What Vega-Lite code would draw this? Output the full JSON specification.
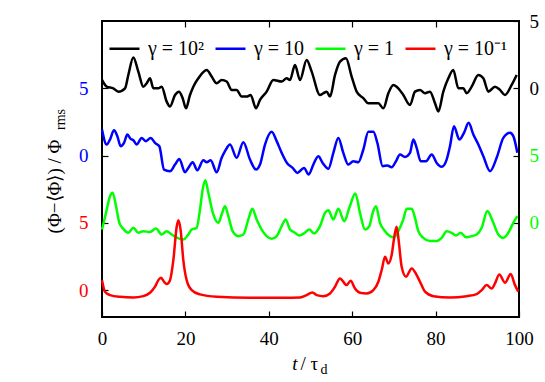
{
  "$schema": "https://vega.github.io/schema/vega-lite/v6.json",
  "width": 417,
  "height": 296,
  "autosize": {"type": "none"},
  "padding": {"left": 102, "top": 21, "right": 26, "bottom": 65},
  "background": "white",
  "config": {
    "view": {"stroke": "black", "strokeWidth": 2},
    "font": "Liberation Serif",
    "axis": {
      "grid": false, "domain": false,
      "labelFont": "Liberation Serif", "labelFontSize": 19, "labelColor": "black",
      "titleFont": "Liberation Serif", "titleFontSize": 19, "titleFontWeight": "normal", "titleColor": "black",
      "tickColor": "black", "tickSize": -6, "tickWidth": 1.2
    },
    "line": {"strokeWidth": 2.5, "interpolate": "monotone", "strokeJoin": "round"}
  },
  "data": {"values": [
    {"series":"γ = 10²","t":0,"y":15.62},{"series":"γ = 10²","t":1.12,"y":15.12},{"series":"γ = 10²","t":2.72,"y":15.0},{"series":"γ = 10²","t":3.92,"y":14.75},{"series":"γ = 10²","t":5.52,"y":15.0},{"series":"γ = 10²","t":6.31,"y":15.99},{"series":"γ = 10²","t":7.51,"y":17.29},{"series":"γ = 10²","t":8.71,"y":16.24},{"series":"γ = 10²","t":9.91,"y":15.12},{"series":"γ = 10²","t":10.71,"y":15.37},{"series":"γ = 10²","t":11.51,"y":15.74},{"series":"γ = 10²","t":12.31,"y":15.0},{"series":"γ = 10²","t":13.51,"y":15.0},{"series":"γ = 10²","t":14.31,"y":15.12},{"series":"γ = 10²","t":15.51,"y":14.01},{"series":"γ = 10²","t":16.31,"y":13.64},{"series":"γ = 10²","t":17.51,"y":14.5},{"series":"γ = 10²","t":18.47,"y":14.75},{"series":"γ = 10²","t":19.34,"y":14.26},{"series":"γ = 10²","t":20.14,"y":13.51},{"series":"γ = 10²","t":21.1,"y":14.5},{"series":"γ = 10²","t":21.9,"y":15.12},{"series":"γ = 10²","t":23.1,"y":15.74},{"series":"γ = 10²","t":25.1,"y":16.36},{"series":"γ = 10²","t":26.3,"y":15.87},{"series":"γ = 10²","t":27.5,"y":15.37},{"series":"γ = 10²","t":28.7,"y":15.62},{"series":"γ = 10²","t":29.9,"y":15.5},{"series":"γ = 10²","t":31.1,"y":14.88},{"series":"γ = 10²","t":32.29,"y":14.88},{"series":"γ = 10²","t":33.49,"y":14.38},{"series":"γ = 10²","t":34.69,"y":14.38},{"series":"γ = 10²","t":35.65,"y":14.5},{"series":"γ = 10²","t":36.93,"y":13.51},{"series":"γ = 10²","t":37.89,"y":14.13},{"series":"γ = 10²","t":39.49,"y":14.75},{"series":"γ = 10²","t":41.09,"y":15.62},{"series":"γ = 10²","t":43.09,"y":15.5},{"series":"γ = 10²","t":44.28,"y":15.74},{"series":"γ = 10²","t":45.08,"y":15.62},{"series":"γ = 10²","t":46.28,"y":16.73},{"series":"γ = 10²","t":47.48,"y":15.62},{"series":"γ = 10²","t":49.08,"y":17.11},{"series":"γ = 10²","t":50.28,"y":16.24},{"series":"γ = 10²","t":52.28,"y":14.5},{"series":"γ = 10²","t":53.08,"y":14.63},{"series":"γ = 10²","t":53.88,"y":14.75},{"series":"γ = 10²","t":54.68,"y":14.38},{"series":"γ = 10²","t":55.88,"y":15.99},{"series":"γ = 10²","t":57.07,"y":16.98},{"series":"γ = 10²","t":58.51,"y":17.23},{"series":"γ = 10²","t":59.87,"y":15.87},{"series":"γ = 10²","t":61.07,"y":14.75},{"series":"γ = 10²","t":62.67,"y":14.26},{"series":"γ = 10²","t":63.87,"y":13.88},{"series":"γ = 10²","t":65.07,"y":13.88},{"series":"γ = 10²","t":66.27,"y":13.88},{"series":"γ = 10²","t":67.47,"y":13.51},{"series":"γ = 10²","t":68.67,"y":14.63},{"series":"γ = 10²","t":69.86,"y":15.25},{"series":"γ = 10²","t":71.06,"y":15.0},{"series":"γ = 10²","t":72.26,"y":14.5},{"series":"γ = 10²","t":73.86,"y":13.76},{"series":"γ = 10²","t":75.06,"y":14.75},{"series":"γ = 10²","t":76.26,"y":14.88},{"series":"γ = 10²","t":77.46,"y":14.63},{"series":"γ = 10²","t":78.66,"y":14.75},{"series":"γ = 10²","t":79.86,"y":13.88},{"series":"γ = 10²","t":80.66,"y":13.27},{"series":"γ = 10²","t":81.85,"y":14.75},{"series":"γ = 10²","t":83.05,"y":15.74},{"series":"γ = 10²","t":84.25,"y":16.36},{"series":"γ = 10²","t":85.45,"y":15.0},{"series":"γ = 10²","t":86.65,"y":15.0},{"series":"γ = 10²","t":87.45,"y":14.63},{"series":"γ = 10²","t":88.65,"y":15.12},{"series":"γ = 10²","t":90.25,"y":15.99},{"series":"γ = 10²","t":91.45,"y":15.74},{"series":"γ = 10²","t":92.65,"y":14.75},{"series":"γ = 10²","t":94.24,"y":15.12},{"series":"γ = 10²","t":95.44,"y":14.88},{"series":"γ = 10²","t":96.64,"y":14.5},{"series":"γ = 10²","t":98.24,"y":15.25},{"series":"γ = 10²","t":99.44,"y":15.99},
    {"series":"γ = 10","t":0,"y":11.93},{"series":"γ = 10","t":1.12,"y":10.82},{"series":"γ = 10","t":1.92,"y":11.19},{"series":"γ = 10","t":2.88,"y":11.88},{"series":"γ = 10","t":3.68,"y":11.44},{"series":"γ = 10","t":4.48,"y":10.69},{"series":"γ = 10","t":5.28,"y":10.94},{"series":"γ = 10","t":6.08,"y":11.56},{"series":"γ = 10","t":6.87,"y":11.24},{"series":"γ = 10","t":7.51,"y":11.14},{"series":"γ = 10","t":8.31,"y":10.82},{"series":"γ = 10","t":9.51,"y":11.31},{"series":"γ = 10","t":10.47,"y":11.07},{"series":"γ = 10","t":11.67,"y":11.31},{"series":"γ = 10","t":12.71,"y":10.94},{"series":"γ = 10","t":13.75,"y":10.69},{"series":"γ = 10","t":14.87,"y":8.96},{"series":"γ = 10","t":16.31,"y":8.84},{"series":"γ = 10","t":17.51,"y":9.33},{"series":"γ = 10","t":18.55,"y":9.75},{"series":"γ = 10","t":19.9,"y":8.76},{"series":"γ = 10","t":20.7,"y":9.08},{"series":"γ = 10","t":21.74,"y":9.5},{"series":"γ = 10","t":22.86,"y":8.91},{"series":"γ = 10","t":24.3,"y":9.65},{"series":"γ = 10","t":25.1,"y":9.5},{"series":"γ = 10","t":26.06,"y":9.65},{"series":"γ = 10","t":27.5,"y":8.76},{"series":"γ = 10","t":28.7,"y":9.83},{"series":"γ = 10","t":29.5,"y":10.32},{"series":"γ = 10","t":30.7,"y":10.82},{"series":"γ = 10","t":32.29,"y":9.83},{"series":"γ = 10","t":33.89,"y":10.99},{"series":"γ = 10","t":35.49,"y":9.7},{"series":"γ = 10","t":36.93,"y":8.96},{"series":"γ = 10","t":37.89,"y":9.33},{"series":"γ = 10","t":39.09,"y":10.82},{"series":"γ = 10","t":40.69,"y":11.76},{"series":"γ = 10","t":41.89,"y":11.07},{"series":"γ = 10","t":43.09,"y":10.2},{"series":"γ = 10","t":44.44,"y":9.41},{"series":"γ = 10","t":45.72,"y":9.08},{"series":"γ = 10","t":46.84,"y":8.71},{"series":"γ = 10","t":48.44,"y":9.08},{"series":"γ = 10","t":49.56,"y":8.59},{"series":"γ = 10","t":50.68,"y":9.33},{"series":"γ = 10","t":51.88,"y":9.95},{"series":"γ = 10","t":52.92,"y":9.45},{"series":"γ = 10","t":54.28,"y":9.01},{"series":"γ = 10","t":55.48,"y":10.2},{"series":"γ = 10","t":56.67,"y":11.31},{"series":"γ = 10","t":57.87,"y":10.2},{"series":"γ = 10","t":59.07,"y":9.33},{"series":"γ = 10","t":60.27,"y":9.58},{"series":"γ = 10","t":61.47,"y":9.5},{"series":"γ = 10","t":62.67,"y":10.45},{"series":"γ = 10","t":63.87,"y":11.76},{"series":"γ = 10","t":65.07,"y":11.76},{"series":"γ = 10","t":66.03,"y":10.94},{"series":"γ = 10","t":67.31,"y":9.21},{"series":"γ = 10","t":68.43,"y":9.26},{"series":"γ = 10","t":69.46,"y":9.13},{"series":"γ = 10","t":70.5,"y":9.58},{"series":"γ = 10","t":71.46,"y":10.07},{"series":"γ = 10","t":72.66,"y":9.9},{"series":"γ = 10","t":73.86,"y":10.2},{"series":"γ = 10","t":74.66,"y":11.19},{"series":"γ = 10","t":75.46,"y":10.57},{"series":"γ = 10","t":76.42,"y":9.58},{"series":"γ = 10","t":77.7,"y":9.58},{"series":"γ = 10","t":79.06,"y":10.07},{"series":"γ = 10","t":80.26,"y":9.45},{"series":"γ = 10","t":81.45,"y":9.16},{"series":"γ = 10","t":82.65,"y":9.7},{"series":"γ = 10","t":83.45,"y":10.69},{"series":"γ = 10","t":84.41,"y":12.18},{"series":"γ = 10","t":85.69,"y":11.19},{"series":"γ = 10","t":86.81,"y":11.69},{"series":"γ = 10","t":87.93,"y":12.43},{"series":"γ = 10","t":89.05,"y":11.56},{"series":"γ = 10","t":90.25,"y":10.82},{"series":"γ = 10","t":91.45,"y":9.95},{"series":"γ = 10","t":93.05,"y":8.84},{"series":"γ = 10","t":94.64,"y":9.83},{"series":"γ = 10","t":96.24,"y":11.31},{"series":"γ = 10","t":97.84,"y":11.69},{"series":"γ = 10","t":98.64,"y":11.44},{"series":"γ = 10","t":99.6,"y":10.2},
    {"series":"γ = 1","t":0,"y":4.5},{"series":"γ = 1","t":0.96,"y":5.74},{"series":"γ = 1","t":1.92,"y":6.98},{"series":"γ = 1","t":2.56,"y":7.23},{"series":"γ = 1","t":3.36,"y":6.24},{"series":"γ = 1","t":4.16,"y":5.0},{"series":"γ = 1","t":5.12,"y":4.55},{"series":"γ = 1","t":6.31,"y":4.26},{"series":"γ = 1","t":7.51,"y":4.63},{"series":"γ = 1","t":8.71,"y":4.26},{"series":"γ = 1","t":9.91,"y":4.38},{"series":"γ = 1","t":11.51,"y":4.31},{"series":"γ = 1","t":12.95,"y":4.58},{"series":"γ = 1","t":14.31,"y":4.13},{"series":"γ = 1","t":15.51,"y":4.38},{"series":"γ = 1","t":16.71,"y":4.13},{"series":"γ = 1","t":18.07,"y":3.88},{"series":"γ = 1","t":19.5,"y":3.76},{"series":"γ = 1","t":20.7,"y":4.13},{"series":"γ = 1","t":21.5,"y":4.5},{"series":"γ = 1","t":22.7,"y":4.63},{"series":"γ = 1","t":23.5,"y":5.99},{"series":"γ = 1","t":24.14,"y":7.48},{"series":"γ = 1","t":24.78,"y":8.17},{"series":"γ = 1","t":25.5,"y":7.23},{"series":"γ = 1","t":26.7,"y":5.62},{"series":"γ = 1","t":27.9,"y":5.0},{"series":"γ = 1","t":28.7,"y":5.62},{"series":"γ = 1","t":29.5,"y":6.24},{"series":"γ = 1","t":30.3,"y":5.5},{"series":"γ = 1","t":31.33,"y":4.38},{"series":"γ = 1","t":32.69,"y":4.01},{"series":"γ = 1","t":33.89,"y":4.13},{"series":"γ = 1","t":35.09,"y":5.25},{"series":"γ = 1","t":36.05,"y":6.04},{"series":"γ = 1","t":37.09,"y":5.25},{"series":"γ = 1","t":38.29,"y":4.5},{"series":"γ = 1","t":39.49,"y":4.01},{"series":"γ = 1","t":40.69,"y":3.81},{"series":"γ = 1","t":41.89,"y":4.01},{"series":"γ = 1","t":43.09,"y":4.75},{"series":"γ = 1","t":44.04,"y":5.25},{"series":"γ = 1","t":45.08,"y":4.5},{"series":"γ = 1","t":46.28,"y":4.26},{"series":"γ = 1","t":47.32,"y":4.06},{"series":"γ = 1","t":48.44,"y":4.21},{"series":"γ = 1","t":49.72,"y":4.5},{"series":"γ = 1","t":50.84,"y":4.21},{"series":"γ = 1","t":52.28,"y":4.75},{"series":"γ = 1","t":53.48,"y":5.74},{"series":"γ = 1","t":54.28,"y":5.94},{"series":"γ = 1","t":55.48,"y":5.25},{"series":"γ = 1","t":56.67,"y":6.04},{"series":"γ = 1","t":58.11,"y":5.12},{"series":"γ = 1","t":59.31,"y":6.12},{"series":"γ = 1","t":60.75,"y":7.18},{"series":"γ = 1","t":61.87,"y":5.74},{"series":"γ = 1","t":63.07,"y":4.5},{"series":"γ = 1","t":64.11,"y":4.75},{"series":"γ = 1","t":64.91,"y":5.74},{"series":"γ = 1","t":65.71,"y":6.24},{"series":"γ = 1","t":66.67,"y":5.0},{"series":"γ = 1","t":67.87,"y":4.38},{"series":"γ = 1","t":69.06,"y":4.01},{"series":"γ = 1","t":70.02,"y":3.93},{"series":"γ = 1","t":71.06,"y":4.38},{"series":"γ = 1","t":72.26,"y":5.25},{"series":"γ = 1","t":73.06,"y":6.04},{"series":"γ = 1","t":74.26,"y":6.04},{"series":"γ = 1","t":75.06,"y":5.37},{"series":"γ = 1","t":75.86,"y":4.38},{"series":"γ = 1","t":77.06,"y":3.88},{"series":"γ = 1","t":78.66,"y":3.64},{"series":"γ = 1","t":80.26,"y":3.64},{"series":"γ = 1","t":81.45,"y":3.88},{"series":"γ = 1","t":82.65,"y":4.38},{"series":"γ = 1","t":83.85,"y":4.26},{"series":"γ = 1","t":84.89,"y":4.06},{"series":"γ = 1","t":86.01,"y":4.26},{"series":"γ = 1","t":87.29,"y":3.93},{"series":"γ = 1","t":88.65,"y":4.01},{"series":"γ = 1","t":89.85,"y":4.13},{"series":"γ = 1","t":91.05,"y":4.63},{"series":"γ = 1","t":92.41,"y":5.87},{"series":"γ = 1","t":93.69,"y":5.12},{"series":"γ = 1","t":95.04,"y":4.13},{"series":"γ = 1","t":96.24,"y":3.88},{"series":"γ = 1","t":97.44,"y":4.26},{"series":"γ = 1","t":98.64,"y":5.0},{"series":"γ = 1","t":99.6,"y":5.5},
    {"series":"γ = 10⁻¹","t":0,"y":0.74},{"series":"γ = 10⁻¹","t":0.72,"y":-0.12},{"series":"γ = 10⁻¹","t":1.92,"y":-0.37},{"series":"γ = 10⁻¹","t":4.32,"y":-0.5},{"series":"γ = 10⁻¹","t":7.51,"y":-0.55},{"series":"γ = 10⁻¹","t":9.91,"y":-0.45},{"series":"γ = 10⁻¹","t":11.51,"y":-0.2},{"series":"γ = 10⁻¹","t":12.71,"y":0.25},{"series":"γ = 10⁻¹","t":13.51,"y":0.74},{"series":"γ = 10⁻¹","t":14.15,"y":0.92},{"series":"γ = 10⁻¹","t":14.87,"y":0.62},{"series":"γ = 10⁻¹","t":15.51,"y":0.45},{"series":"γ = 10⁻¹","t":16.31,"y":0.74},{"series":"γ = 10⁻¹","t":17.11,"y":2.23},{"series":"γ = 10⁻¹","t":17.91,"y":4.71},{"series":"γ = 10⁻¹","t":18.31,"y":5.2},{"series":"γ = 10⁻¹","t":18.86,"y":4.46},{"series":"γ = 10⁻¹","t":19.5,"y":2.23},{"series":"γ = 10⁻¹","t":20.3,"y":0.74},{"series":"γ = 10⁻¹","t":21.5,"y":0.0},{"series":"γ = 10⁻¹","t":23.5,"y":-0.32},{"series":"γ = 10⁻¹","t":27.5,"y":-0.5},{"series":"γ = 10⁻¹","t":35.49,"y":-0.57},{"series":"γ = 10⁻¹","t":43.49,"y":-0.57},{"series":"γ = 10⁻¹","t":47.48,"y":-0.55},{"series":"γ = 10⁻¹","t":49.08,"y":-0.37},{"series":"γ = 10⁻¹","t":50.44,"y":-0.17},{"series":"γ = 10⁻¹","t":51.48,"y":-0.37},{"series":"γ = 10⁻¹","t":53.08,"y":-0.45},{"series":"γ = 10⁻¹","t":54.68,"y":-0.25},{"series":"γ = 10⁻¹","t":55.88,"y":0.25},{"series":"γ = 10⁻¹","t":57.07,"y":0.87},{"series":"γ = 10⁻¹","t":58.67,"y":0.37},{"series":"γ = 10⁻¹","t":59.63,"y":0.69},{"series":"γ = 10⁻¹","t":60.67,"y":0.12},{"series":"γ = 10⁻¹","t":61.87,"y":-0.2},{"series":"γ = 10⁻¹","t":63.47,"y":-0.25},{"series":"γ = 10⁻¹","t":65.07,"y":0.0},{"series":"γ = 10⁻¹","t":66.27,"y":0.62},{"series":"γ = 10⁻¹","t":67.07,"y":1.49},{"series":"γ = 10⁻¹","t":67.87,"y":2.48},{"series":"γ = 10⁻¹","t":68.67,"y":1.98},{"series":"γ = 10⁻¹","t":69.46,"y":2.6},{"series":"γ = 10⁻¹","t":70.1,"y":3.97},{"series":"γ = 10⁻¹","t":70.66,"y":4.71},{"series":"γ = 10⁻¹","t":71.22,"y":3.47},{"series":"γ = 10⁻¹","t":71.86,"y":1.73},{"series":"γ = 10⁻¹","t":72.9,"y":0.99},{"series":"γ = 10⁻¹","t":74.26,"y":1.61},{"series":"γ = 10⁻¹","t":75.46,"y":1.12},{"series":"γ = 10⁻¹","t":76.26,"y":0.62},{"series":"γ = 10⁻¹","t":77.46,"y":-0.12},{"series":"γ = 10⁻¹","t":79.46,"y":-0.45},{"series":"γ = 10⁻¹","t":83.45,"y":-0.55},{"series":"γ = 10⁻¹","t":87.45,"y":-0.45},{"series":"γ = 10⁻¹","t":89.85,"y":-0.3},{"series":"γ = 10⁻¹","t":91.05,"y":0.0},{"series":"γ = 10⁻¹","t":92.25,"y":0.37},{"series":"γ = 10⁻¹","t":93.45,"y":0.12},{"series":"γ = 10⁻¹","t":94.24,"y":0.5},{"series":"γ = 10⁻¹","t":95.28,"y":1.16},{"series":"γ = 10⁻¹","t":96.64,"y":0.55},{"series":"γ = 10⁻¹","t":98.0,"y":1.19},{"series":"γ = 10⁻¹","t":99.04,"y":0.37},{"series":"γ = 10⁻¹","t":99.84,"y":-0.12}
  ]},
  "resolve": {
    "scale": {"x": "shared", "y": "shared", "color": "shared"},
    "axis": {"x": "independent", "y": "independent"}
  },
  "layer": [
    {
      "transform": [{"filter": "datum.series === 'γ = 10²'"}],
      "mark": {"type": "line"},
      "encoding": {
        "x": {"field": "t", "type": "quantitative", "scale": {"domain": [0, 100], "nice": false, "zero": false},
          "axis": {"orient": "top", "values": [20, 40, 60, 80], "labels": false, "ticks": true, "title": null}},
        "y": {"field": "y", "type": "quantitative", "scale": {"domain": [-2, 20], "nice": false, "zero": false},
          "axis": {"orient": "right", "values": [15, 20], "labelExpr": "'' + (datum.value - 15)", "labelColor": "black", "labelPadding": 16, "labelAlign": "left", "title": null}},
        "color": {"field": "series", "type": "nominal",
          "scale": {"domain": ["γ = 10²", "γ = 10", "γ = 1", "γ = 10⁻¹"], "range": ["#000000", "#0000ff", "#00ff00", "#ff0000"]},
          "legend": {"orient": "none", "legendX": 6, "legendY": 11, "direction": "horizontal", "title": null,
            "symbolType": "stroke", "symbolSize": 900, "symbolStrokeWidth": 2.5,
            "labelFont": "Liberation Serif", "labelFontSize": 20, "labelOffset": 7, "columnPadding": 9, "padding": 0,
            "labelLimit": 200,
            "encode": {"labels": {"update": {"fill": {"scale": "color", "field": "value"}}}}}}
      }
    },
    {
      "transform": [{"filter": "datum.series === 'γ = 10'"}],
      "mark": {"type": "line"},
      "encoding": {
        "x": {"field": "t", "type": "quantitative",
          "axis": {"orient": "bottom", "values": [0, 20, 40, 60, 80, 100], "labelPadding": 18, "labelFlush": false,
            "title": "t", "titleFontStyle": "italic", "titleX": 195, "titleY": 52, "titleAlign": "right", "titleBaseline": "alphabetic", "titleAngle": 0}},
        "y": {"field": "y", "type": "quantitative",
          "axis": {"orient": "left", "values": [10, 15], "labelExpr": "'' + (datum.value - 10)", "labelColor": "#0000ff", "labelPadding": 20,
            "title": "rms", "titleFontSize": 14, "titleX": -38, "titleY": 98, "titleAngle": -90, "titleAlign": "center", "titleBaseline": "alphabetic"}},
        "color": {"field": "series", "type": "nominal"}
      }
    },
    {
      "transform": [{"filter": "datum.series === 'γ = 1'"}],
      "mark": {"type": "line"},
      "encoding": {
        "x": {"field": "t", "type": "quantitative",
          "axis": {"orient": "bottom", "labels": false, "ticks": false,
            "title": "/ τ", "titleX": 198, "titleY": 52, "titleAlign": "left", "titleBaseline": "alphabetic", "titleAngle": 0}},
        "y": {"field": "y", "type": "quantitative",
          "axis": {"orient": "right", "values": [5, 10], "labelExpr": "'' + (datum.value - 5)", "labelColor": "#00ff00", "labelPadding": 16, "labelAlign": "left", "title": null}},
        "color": {"field": "series", "type": "nominal"}
      }
    },
    {
      "transform": [{"filter": "datum.series === 'γ = 10⁻¹'"}],
      "mark": {"type": "line"},
      "encoding": {
        "x": {"field": "t", "type": "quantitative",
          "axis": {"orient": "bottom", "labels": false, "ticks": false,
            "title": "d", "titleFontSize": 14, "titleX": 218, "titleY": 56, "titleAlign": "left", "titleBaseline": "alphabetic", "titleAngle": 0}},
        "y": {"field": "y", "type": "quantitative",
          "axis": {"orient": "left", "values": [0, 5], "labelColor": "#ff0000", "labelPadding": 20,
            "title": "(Φ−⟨Φ⟩) / Φ", "titleX": -42, "titleY": 165, "titleAngle": -90, "titleAlign": "center", "titleBaseline": "alphabetic"}},
        "color": {"field": "series", "type": "nominal"}
      }
    }
  ]
}
